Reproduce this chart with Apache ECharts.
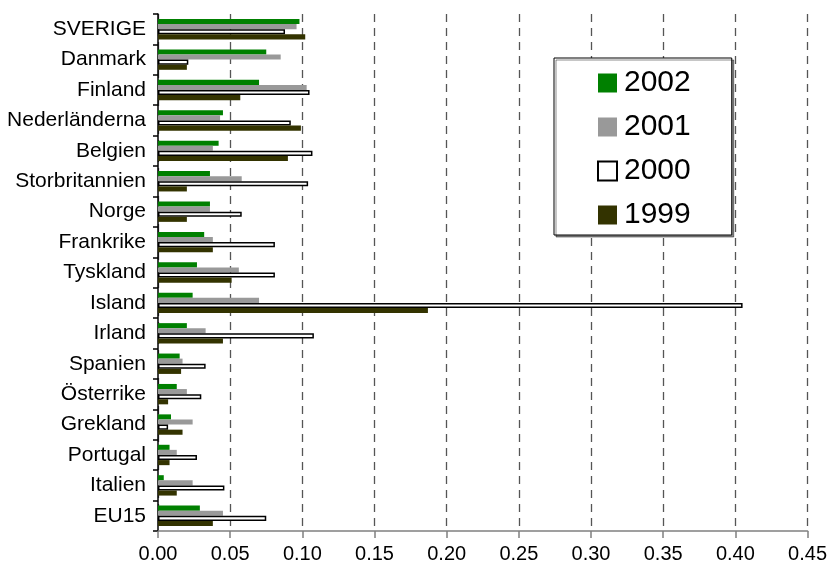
<!DOCTYPE html>
<html>
<head>
<meta charset="utf-8">
<script src="https://cdn.jsdelivr.net/npm/echarts@6/dist/echarts.min.js"></script>
<style>
html,body{margin:0;padding:0;background:#fff;}
#c{width:830px;height:570px;}
</style>
</head>
<body>
<div id="c"></div>
<script>
var categories = ["SVERIGE","Danmark","Finland","Nederländerna","Belgien","Storbritannien","Norge","Frankrike","Tyskland","Island","Irland","Spanien","Österrike","Grekland","Portugal","Italien","EU15"];
var s2002 = [0.098,0.075,0.070,0.045,0.042,0.036,0.036,0.032,0.027,0.024,0.020,0.015,0.013,0.009,0.008,0.004,0.029];
var s2001 = [0.096,0.085,0.103,0.043,0.038,0.058,0.036,0.038,0.056,0.070,0.033,0.017,0.020,0.024,0.013,0.024,0.045];
var s2000 = [0.088,0.021,0.105,0.092,0.107,0.104,0.058,0.081,0.081,0.405,0.108,0.033,0.030,0.007,0.027,0.046,0.075];
var s1999 = [0.102,0.020,0.057,0.099,0.090,0.020,0.020,0.038,0.051,0.187,0.045,0.016,0.007,0.017,0.008,0.013,0.038];
var xTicks = ["0.00","0.05","0.10","0.15","0.20","0.25","0.30","0.35","0.40","0.45"];

var chart = echarts.init(document.getElementById('c'));
var font = 'Liberation Sans, Arial, sans-serif';
function bar(name, data, style) {
  return {
    name: name, type: 'bar', data: data,
    barGap: '0%', barCategoryGap: '33%',
    itemStyle: style, emphasis: {disabled: true}, animation: false
  };
}
chart.setOption({
  animation: false,
  grid: {left: 158, right: 22, top: 14, bottom: 39, containLabel: false},
  legend: {
    left: 554, top: 58, orient: 'vertical',
    padding: [10, 41, 5, 43],
    itemWidth: 19, itemHeight: 19, itemGap: 14,
    borderColor: '#000', borderWidth: 1, backgroundColor: '#fff',
    shadowColor: 'rgba(0,0,0,0.45)', shadowOffsetX: 2, shadowOffsetY: 2, shadowBlur: 0,
    icon: 'rect',
    textStyle: {fontFamily: font, fontSize: 30, color: '#000', padding: [0,0,0,2]},
    data: ['2002','2001','2000','1999']
  },
  xAxis: {
    type: 'value', min: 0, max: 0.45, interval: 0.05,
    axisLine: {show: true, lineStyle: {color: '#808080', width: 1.5}},
    axisTick: {show: true, length: 7, lineStyle: {color: '#808080', width: 1.5}},
    axisLabel: {fontFamily: font, fontSize: 20, color: '#000', margin: 13,
      formatter: function (v) { return xTicks[Math.round(v / 0.05)]; }},
    splitLine: {show: true, lineStyle: {color: '#555', width: 1.3, type: [8, 6]}}
  },
  yAxis: {
    type: 'category', data: categories, inverse: true,
    axisLine: {show: true, lineStyle: {color: '#000', width: 1.5}},
    axisTick: {show: true, length: 5, lineStyle: {color: '#000', width: 1.5}},
    axisLabel: {fontFamily: font, fontSize: 21, color: '#000', margin: 12},
    splitLine: {show: false}
  },
  series: [
    bar('2002', s2002, {color: '#008000'}),
    bar('2001', s2001, {color: '#999999'}),
    bar('2000', s2000, {color: '#ffffff', borderColor: '#000', borderWidth: 1.5}),
    bar('1999', s1999, {color: '#333300'})
  ]
});
</script>
</body>
</html>
